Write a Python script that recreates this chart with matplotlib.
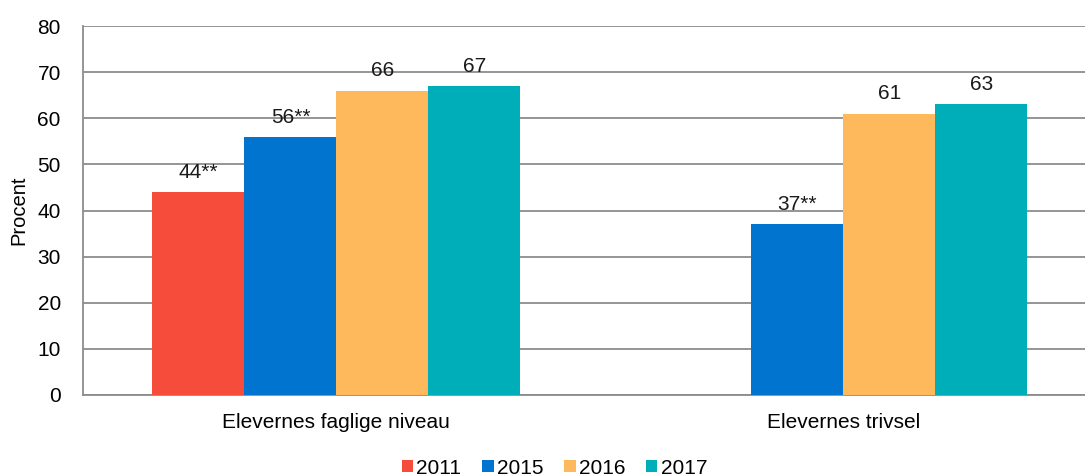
import matplotlib
matplotlib.use("Agg")
import matplotlib.pyplot as plt
import numpy as np
from matplotlib.patches import Patch

plt.rcParams['font.family'] = ['Liberation Sans', 'DejaVu Sans']

categories = ["Elevernes faglige niveau", "Elevernes trivsel"]
years = ["2011", "2015", "2016", "2017"]
values = {
    "2011": [44, None],
    "2015": [56, 37],
    "2016": [66, 61],
    "2017": [67, 63],
}
labels = {
    "2011": ["44**", ""],
    "2015": ["56**", "37**"],
    "2016": ["66", "61"],
    "2017": ["67", "63"],
}
colors = {"2011": "#F54C3C", "2015": "#0074CF", "2016": "#FDB95C", "2017": "#00AEB9"}
yticks = [0, 10, 20, 30, 40, 50, 60, 70, 80]

fig = plt.figure(figsize=(10.85, 4.76), dpi=100)
ax = fig.add_axes([83/1085, 1-395/476, 1-83/1085, (395-26)/476])

x = np.arange(len(categories))
w = 92/507
offsets = [-1.5*w, -0.5*w, 0.5*w, 1.5*w]
for yr, off in zip(years, offsets):
    for i, v in enumerate(values[yr]):
        if v is None:
            continue
        ax.bar(x[i] + off, v, width=w, color=colors[yr], zorder=3)
        ax.text(x[i] + off, v + 2.2, labels[yr][i], ha='center', va='bottom',
                fontsize=15, color='#1a1a1a', zorder=4)

ax.set_xlim(-0.5, 1.477)
ax.set_ylim(0, 80)
ax.set_yticks(yticks)
ax.set_yticklabels([str(t) for t in yticks], fontsize=15)
ax.set_xticks(x)
ax.set_xticklabels(categories, fontsize=15)
ax.tick_params(axis='y', length=0, pad=16)
ax.tick_params(axis='x', length=0, pad=13)
ax.grid(axis='y', color='#8c8c8c', linewidth=1.3, zorder=0)
for s in ['top', 'right']:
    ax.spines[s].set_visible(False)
for s in ['left', 'bottom']:
    ax.spines[s].set_color('#8c8c8c')
    ax.spines[s].set_linewidth(1.3)
ax.set_ylabel("Procent", fontsize=14.5)
ax.yaxis.set_label_coords(-0.055, 0.5)

handles = [Patch(facecolor=colors[y], label=y) for y in years]
fig.legend(handles=handles, loc='center', bbox_to_anchor=(0.511, 1-468/476), ncol=4,
           frameon=False, fontsize=15, handlelength=0.55, handleheight=0.55,
           handletextpad=0.15, columnspacing=1.0)

fig.savefig("out.png", dpi=100)
